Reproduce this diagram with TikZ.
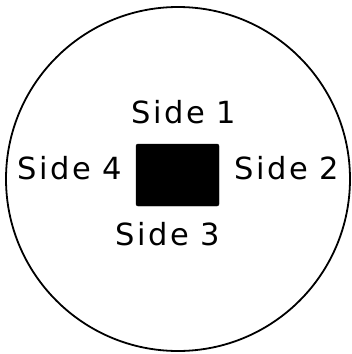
\documentclass[tikz,border=0pt]{standalone}
\usepackage{fontspec}
\newfontfamily\sidefont[LetterSpace=8]{DejaVu Sans}
\usepackage{tikz}
\usetikzlibrary{positioning}
\tikzstyle{sidelabel} = [
    font=\sidefont\fontsize{30.5}{33}\selectfont,
    inner sep=0pt
]
\tikzstyle{block} = [
    draw=black,
    fill=black,
    rounded corners=2pt
]

\begin{document}
\begin{tikzpicture}[x=1pt, y=-1pt]
    \useasboundingbox (0,0) rectangle (352,354);

    % Outer circle
    \draw[line width=1.8pt] (178,179) circle (172);

    % Black square in the centre
    \node[block, minimum width=83pt, minimum height=62pt, inner sep=0pt] (centre) at (177.5,175) {};

    % Side labels
    \node[sidelabel] (side1) at (184,112) {Side 1};
    \node[sidelabel] (side2) at (287,168) {Side 2};
    \node[sidelabel] (side3) at (168,234) {Side 3};
    \node[sidelabel] (side4) at (70,168) {Side 4};
\end{tikzpicture}
\end{document}
